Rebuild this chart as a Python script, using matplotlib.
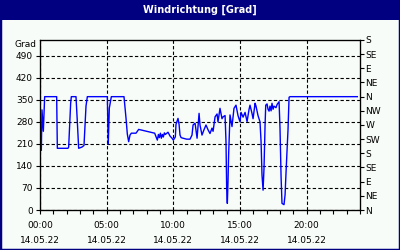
import numpy as np
import matplotlib
matplotlib.use('Agg')
import matplotlib.pyplot as plt
from matplotlib.patches import Rectangle

# wind direction readings, hours since 00:00 on 14.05.22
hours = [0.1, 0.15, 0.25, 0.35, 1.25, 1.3, 2.1, 2.15, 2.3, 2.35, 2.7, 2.8, 2.9, 3.15, 3.3, 3.45, 3.55,
         5.05, 5.12, 5.2, 5.35, 6.3, 6.45, 6.55, 6.65, 6.75, 6.85, 7.2, 7.4, 7.7, 8.0, 8.3, 8.6,
         8.8, 8.88, 8.95, 9.03, 9.1, 9.18, 9.25, 9.33, 9.4, 9.6, 9.75, 9.9, 10.0, 10.15, 10.2, 10.35,
         10.43, 10.5, 10.58, 10.73, 11.0, 11.25, 11.4, 11.48, 11.63, 11.78, 11.93, 12.0, 12.15, 12.3,
         12.45, 12.6, 12.75, 12.9, 12.98, 13.13, 13.28, 13.35, 13.5, 13.65, 13.73, 13.88, 13.95, 14.0,
         14.05, 14.1, 14.15, 14.25, 14.4, 14.55, 14.7, 14.85, 15.0, 15.08, 15.23, 15.38, 15.53, 15.68,
         15.75, 15.9, 15.98, 16.13, 16.2, 16.35, 16.5, 16.58, 16.65, 16.73, 16.8, 16.88, 16.93, 17.03,
         17.1, 17.18, 17.25, 17.33, 17.4, 17.48, 17.55, 17.7, 17.78, 17.93, 18.0, 18.08, 18.15, 18.3,
         18.38, 18.45, 18.53, 18.6, 18.68, 18.75, 23.8]
grad = [190, 318, 250, 360, 360, 196, 196, 200, 340, 360, 360, 280, 196, 200, 205, 330, 360,
        360, 210, 324, 360, 360, 292, 241, 217, 238, 244, 244, 256, 253, 250, 247, 244,
        222, 240, 230, 244, 228, 240, 232, 245, 240, 247, 235, 228, 222, 232, 272, 291,
        272, 238, 230, 228, 225, 225, 238, 270, 276, 228, 307, 270, 238, 255,
        270, 255, 243, 260, 250, 296, 305, 280, 323, 290, 296, 300, 217, 69,
        21, 90, 180, 302, 265, 323, 333, 300, 280, 310, 295, 310, 281, 320,
        333, 307, 290, 339, 330, 300, 280, 217, 111, 63, 132, 270, 333, 337,
        320, 314, 330, 315, 339, 320, 330, 325, 335, 344, 260, 106, 21, 17,
        48, 117, 191, 254, 358, 360, 360]

y_ticks = [0, 70, 140, 210, 280, 350, 420, 490]
x_ticks = [0, 5, 10, 15, 20]
x_labels = ['00:00\n14.05.22', '05:00\n14.05.22', '10:00\n14.05.22', '15:00\n14.05.22', '20:00\n14.05.22']
dir_ticks = [0, 45, 90, 135, 180, 225, 270, 315, 360, 405, 450, 495, 540]
dir_labels = ['N', 'NE', 'E', 'SE', 'S', 'SW', 'W', 'NW', 'N', 'NE', 'E', 'SE', 'S']

navy = '#000080'
bg = '#f8fcf8'
fs = 6.5

fig = plt.figure(figsize=(4, 2.5), dpi=100, facecolor=bg)

# title bar and frame
fig.patches.append(Rectangle((0, 1 - 20 / 250), 1, 20 / 250, transform=fig.transFigure,
                             facecolor=navy, edgecolor='none', zorder=0))
fig.patches.append(Rectangle((0, 0), 1, 1, transform=fig.transFigure, facecolor='none',
                             edgecolor=navy, linewidth=2.5, zorder=1))
fig.text(0.5, 1 - 10 / 250, 'Windrichtung [Grad]', color='white', fontsize=7, fontweight='bold',
         ha='center', va='center')

ax = fig.add_axes([0.1, 0.16, 0.8, 0.68], facecolor=bg)
ax.plot(hours, grad, color='#0000ff', lw=1)
ax.set_xlim(0, 24)
ax.set_ylim(0, 540)

ax.set_yticks(y_ticks)
ax.set_xticks(x_ticks)
ax.set_xticklabels(x_labels, linespacing=1.9)
ax.set_xticks(np.arange(0, 25, 1), minor=True)
ax.tick_params(axis='both', labelsize=fs, colors='black', length=3, width=0.8, direction='out')
ax.tick_params(axis='x', which='major', pad=5)
ax.tick_params(axis='x', which='minor', length=3, width=0.8)
ax.tick_params(axis='y', pad=2)
for s in ax.spines.values():
    s.set_color('black')
    s.set_linewidth(0.9)

ax.grid(True, which='major', color='black', linestyle=(0, (3, 2)), linewidth=0.8)

ax.text(-0.012, 527, 'Grad', fontsize=fs, ha='right', va='center', transform=ax.get_yaxis_transform())

ax2 = ax.twinx()
ax2.set_ylim(0, 540)
ax2.set_yticks(dir_ticks)
ax2.set_yticklabels(dir_labels)
ax2.tick_params(axis='y', labelsize=fs, length=3, width=0.8, pad=1)

fig.savefig('out.png', dpi=100, facecolor=bg)
